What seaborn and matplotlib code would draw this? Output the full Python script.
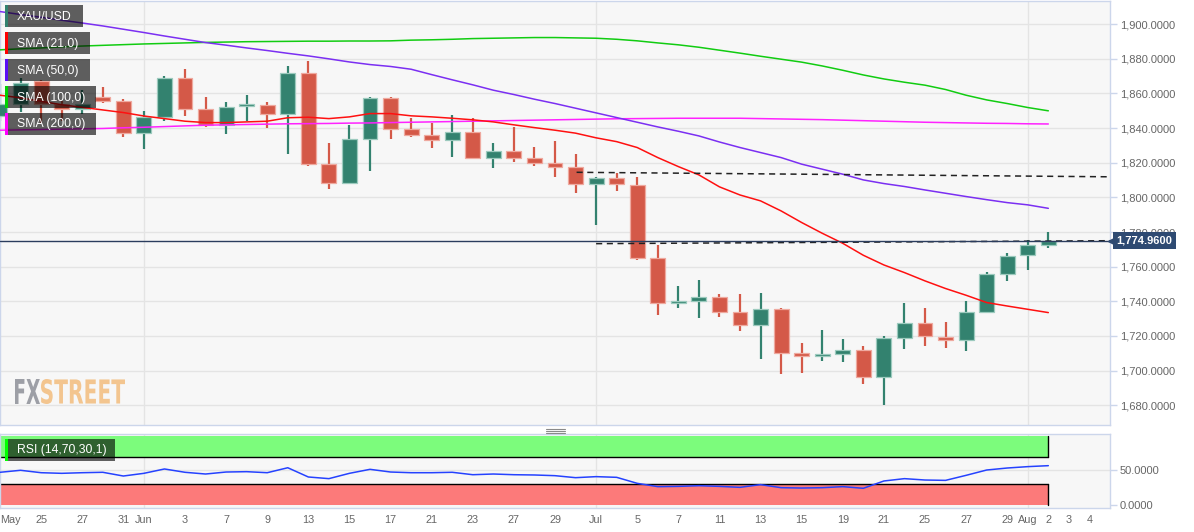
import matplotlib
matplotlib.use('Agg')
import numpy as np
import pandas as pd
import matplotlib.pyplot as plt
import matplotlib.transforms as mtransforms
from matplotlib.patches import Rectangle, PathPatch
from matplotlib.lines import Line2D
from matplotlib.textpath import TextPath
from matplotlib.font_manager import FontProperties
import seaborn as sns

# daily XAU/USD candles, index 0 = first visible session, 51 = Aug 2
opens = [1847.1, 1853.8, 1867.3, 1853.8, 1850.9, 1858.2, 1855.7, 1837.4, 1846.5, 1868.8,
         1850.9, 1841.9, 1852.5, 1853.2, 1848.0, 1871.7, 1819.2, 1808.6, 1834.0, 1857.3,
         1839.7, 1836.1, 1833.2, 1837.8, 1823.0, 1826.7, 1823.0, 1820.1, 1817.8, 1807.6,
         1811.1, 1807.2, 1764.9, 1738.9, 1740.4, 1742.7, 1734.1, 1726.2, 1735.4, 1710.0,
         1708.5, 1709.4, 1711.7, 1696.5, 1718.7, 1727.7, 1719.6, 1717.5, 1734.1, 1756.0,
         1766.6, 1772.4]
highs = [1865.4, 1869.2, 1868.0, 1855.7, 1861.9, 1863.8, 1856.9, 1850.0, 1870.2, 1874.2,
         1858.0, 1855.1, 1859.2, 1855.1, 1875.9, 1878.8, 1831.3, 1841.9, 1857.7, 1858.0,
         1845.7, 1843.2, 1847.6, 1845.7, 1831.3, 1840.9, 1829.2, 1832.6, 1825.1, 1812.0,
         1814.0, 1812.0, 1772.8, 1748.9, 1752.4, 1744.3, 1744.3, 1744.7, 1736.4, 1715.8,
         1723.5, 1718.1, 1714.2, 1720.0, 1739.3, 1736.4, 1728.1, 1740.2, 1757.0, 1768.1,
         1775.3, 1780.3]
lows = [1844.2, 1849.6, 1842.3, 1844.2, 1848.0, 1854.4, 1835.1, 1828.2, 1844.2, 1847.1,
        1840.9, 1836.9, 1844.2, 1840.3, 1825.3, 1818.4, 1805.1, 1807.6, 1815.3, 1834.0,
        1835.1, 1828.8, 1823.6, 1823.0, 1816.7, 1820.5, 1818.2, 1812.0, 1802.6, 1784.3,
        1803.8, 1764.1, 1732.1, 1736.4, 1730.6, 1731.0, 1722.9, 1706.9, 1697.9, 1698.8,
        1705.6, 1705.2, 1692.5, 1680.2, 1712.7, 1714.2, 1713.3, 1711.4, 1733.5, 1751.8,
        1758.3, 1771.0]
closes = [1853.8, 1866.3, 1853.8, 1850.9, 1853.8, 1855.7, 1837.4, 1846.5, 1868.8, 1850.9,
          1841.9, 1852.3, 1853.2, 1848.0, 1871.7, 1819.2, 1808.6, 1834.0, 1857.3, 1839.7,
          1836.1, 1833.2, 1837.8, 1823.0, 1826.7, 1823.0, 1820.1, 1817.8, 1807.6, 1811.1,
          1807.6, 1764.9, 1738.9, 1740.0, 1742.7, 1734.1, 1726.2, 1735.4, 1710.0, 1708.5,
          1709.1, 1711.7, 1696.5, 1718.7, 1727.7, 1720.0, 1717.5, 1734.1, 1755.6, 1766.2,
          1772.4, 1774.96]

sma21 = [1859.0, 1857.5, 1855.5, 1853.5, 1852.0, 1850.5, 1849.0, 1847.0, 1845.5, 1844.0,
         1843.2, 1843.2, 1843.6, 1844.0, 1846.0, 1846.3, 1845.5, 1846.5, 1848.4, 1848.4,
         1847.1, 1846.5, 1845.7, 1844.8, 1843.6, 1841.9, 1840.3, 1838.8, 1837.1, 1834.4,
         1832.2, 1828.8, 1823.0, 1817.8, 1813.0, 1806.1, 1801.4, 1798.0, 1792.2, 1785.5,
         1779.3, 1773.5, 1766.6, 1761.0, 1756.6, 1751.8, 1747.4, 1743.5, 1739.3, 1737.3,
         1735.4, 1733.5]
sma50 = [1907.3, 1905.6, 1904.0, 1902.3, 1900.7, 1899.0, 1897.1, 1895.2, 1893.2, 1891.3,
         1889.4, 1887.9, 1886.3, 1884.8, 1883.2, 1881.7, 1880.0, 1878.2, 1876.7, 1875.6,
         1874.0, 1870.9, 1867.9, 1865.0, 1861.9, 1859.4, 1856.7, 1854.2, 1851.5, 1848.8,
         1846.1, 1843.4, 1840.7, 1838.2, 1835.5, 1832.0, 1828.8, 1825.9, 1823.0, 1819.2,
         1816.3, 1813.4, 1810.1, 1808.0, 1806.3, 1804.3, 1802.4, 1800.5, 1798.7, 1797.0,
         1795.7, 1793.7]
sma100 = [1885.2, 1885.8, 1886.3, 1886.9, 1887.4, 1887.8, 1888.2, 1888.6, 1888.9, 1889.2,
          1889.5, 1889.7, 1889.9, 1890.0, 1890.1, 1890.2, 1890.2, 1890.3, 1890.3, 1890.4,
          1890.8, 1891.0, 1891.3, 1891.7, 1891.9, 1892.1, 1892.3, 1892.3, 1892.1, 1891.9,
          1891.3, 1890.4, 1889.2, 1888.1, 1886.7, 1885.0, 1883.3, 1881.5, 1879.8, 1878.1,
          1875.9, 1873.4, 1870.7, 1868.4, 1866.5, 1864.8, 1862.3, 1859.0, 1856.3, 1854.2,
          1851.9, 1850.0]
sma200 = [1838.8, 1839.0, 1839.2, 1839.4, 1839.6, 1839.8, 1840.2, 1840.5, 1840.9, 1841.3,
          1841.7, 1841.9, 1842.1, 1842.3, 1842.5, 1842.6, 1842.7, 1842.9, 1843.0, 1843.2,
          1843.4, 1843.6, 1843.8, 1844.0, 1844.2, 1844.4, 1844.6, 1844.8, 1845.0, 1845.2,
          1845.4, 1845.5, 1845.6, 1845.7, 1845.7, 1845.7, 1845.7, 1845.5, 1845.3, 1845.1,
          1844.9, 1844.6, 1844.3, 1844.0, 1843.7, 1843.4, 1843.2, 1843.0, 1842.8, 1842.7,
          1842.5, 1842.4]
rsi = [47.4, 50.3, 46.8, 45.9, 46.8, 47.4, 42.0, 45.9, 52.2, 47.4,
       44.9, 47.8, 48.3, 46.8, 54.0, 40.6, 38.2, 45.9, 51.7, 47.8,
       46.8, 46.8, 47.4, 43.9, 44.9, 43.9, 43.5, 42.5, 39.6, 41.1,
       40.1, 31.4, 26.6, 27.0, 28.0, 27.0, 25.6, 29.5, 25.1, 24.6,
       25.1, 26.6, 24.2, 34.8, 38.2, 36.2, 35.7, 43.0, 50.7, 53.6,
       55.6, 57.0]

last_price = 1774.96
# hand-drawn dashed levels (start/end session index, price)
upper_level_x = [28.05, 54]
upper_level_y = [1814.5, 1811.9]
lower_level_x = [29.0, 54]
lower_level_y = [1773.3, 1775.0]

tick_pos = [0, 2, 4, 6, 7, 9, 11, 13, 15, 17, 19, 21, 23, 25, 27, 29, 31, 33, 35, 37,
            39, 41, 43, 45, 47, 49, 50, 51, 52, 53]
tick_labels = ['May', '25', '27', '31', 'Jun', '3', '7', '9', '13', '15', '17', '21', '23',
               '27', '29', 'Jul', '5', '7', '11', '13', '15', '19', '21', '25', '27', '29',
               'Aug', '2', '3', '4']
month_pos = [7, 29, 50]

df = pd.DataFrame({'idx': np.arange(len(opens)), 'open': opens, 'high': highs,
                   'low': lows, 'close': closes, 'sma21': sma21, 'sma50': sma50,
                   'sma100': sma100, 'sma200': sma200, 'rsi': rsi})

sns.set_theme(style='white')
plt.rcParams['font.family'] = ['Liberation Sans', 'DejaVu Sans']

GREEN = '#33826f'
RED = '#d45948'
BORDER = '#ccd6eb'
GRID = '#e4e4e4'
BG = '#f7f7f7'
W, H = 1194, 532

fig = plt.figure(figsize=(W / 100, H / 100), dpi=100, facecolor='white')
ax = fig.add_axes([0, 1 - 425 / H, 1110 / W, 424 / H])
ax_rsi = fig.add_axes([0, 1 - 508 / H, 1110 / W, 74 / H])

for a in (ax, ax_rsi):
    a.set_facecolor(BG)
    for s in a.spines.values():
        s.set_color(BORDER)
        s.set_linewidth(1)
    a.set_xlim(0, 54)

# --- price panel ---
up = df['close'] >= df['open']
body_col = np.where(up, GREEN, RED)
edge_col = np.where(up, '#9ccabe', '#efa99f')
ax.vlines(df['idx'], df['low'], df['high'], colors=body_col, lw=1.6, zorder=2)
body_h = np.maximum((df['close'] - df['open']).abs(), 1.3)
ax.bar(df['idx'], body_h, bottom=np.minimum(df['open'], df['close']), width=0.72,
       color=body_col, edgecolor=edge_col, linewidth=0.9, zorder=3)

for col, c in [('sma200', '#ff22ff'), ('sma100', '#11cc11'), ('sma50', '#7b2ff2'),
               ('sma21', '#ff1010')]:
    sns.lineplot(data=df, x='idx', y=col, ax=ax, color=c, lw=1.1, zorder=4, legend=False)

ax.plot(upper_level_x, upper_level_y, color='#222222', lw=1.1, dashes=(4, 3), zorder=5)
ax.plot(lower_level_x, lower_level_y, color='#222222', lw=1.1, dashes=(4, 3), zorder=5)
ax.axhline(last_price, color='#2b3d5e', lw=1, zorder=5)

ax.set_ylim(1668.6, 1913.4)
ax.set_yticks(np.arange(1680, 1901, 20))
ax.set_yticklabels([f'{v:,.4f}' for v in np.arange(1680, 1901, 20)])
ax.yaxis.tick_right()
ax.set_xticks(month_pos)
ax.set_xticklabels([])
ax.tick_params(axis='x', length=0)
ax.tick_params(axis='y', length=5, width=1, color=BORDER, pad=2, labelsize=8,
               labelcolor='#666666')
ax.grid(True, color=GRID, lw=1)
ax.set_axisbelow(True)
ax.set_xlabel('')
ax.set_ylabel('')

trans = mtransforms.blended_transform_factory(ax.transAxes, ax.transData)
ax.text(1.0057, last_price, f'{last_price:,.4f}', transform=trans, color='white',
        fontsize=8, fontweight='bold', va='center', ha='left', zorder=10, clip_on=False,
        bbox=dict(boxstyle='square,pad=0.3', fc='#2e4a72', ec='none'))
ax.plot([1.001], [last_price], marker='<', ms=5, color='#2e4a72', transform=trans,
        clip_on=False, zorder=10)

# --- RSI panel ---
ax_rsi.set_ylim(-4.35, 102.9)
ax_rsi.fill_between([0, 51], 70, 100, color='#7cfc7c', lw=0, zorder=1)
ax_rsi.fill_between([0, 51], 0, 30, color='#fc7a7a', lw=0, zorder=1)
ax_rsi.plot([0, 51], [70, 70], color='black', lw=1, zorder=2)
ax_rsi.plot([0, 51], [30, 30], color='black', lw=1, zorder=2)
ax_rsi.plot([51, 51], [70, 100], color='black', lw=1, zorder=2)
ax_rsi.plot([51, 51], [0, 30], color='black', lw=1, zorder=2)
for m in month_pos:
    ax_rsi.axvline(m, color=GRID, lw=1, zorder=0.5)
ax_rsi.axhline(50, color=GRID, lw=1, zorder=0.5)
sns.lineplot(data=df, x='idx', y='rsi', ax=ax_rsi, color='#2542ff', lw=1.1, zorder=3,
             legend=False)
ax_rsi.yaxis.tick_right()
ax_rsi.set_yticks([0, 50])
ax_rsi.set_yticklabels(['0.0000', '50.0000'])
ax_rsi.set_xticks(tick_pos)
ax_rsi.set_xticklabels(tick_labels)
ax_rsi.get_xticklabels()[0].set_horizontalalignment('left')
ax_rsi.tick_params(axis='x', length=3, width=1, color='#aaaaaa', pad=2, labelsize=7.8,
                   labelcolor='#666666')
ax_rsi.tick_params(axis='y', length=5, width=1, color=BORDER, pad=2, labelsize=8,
                   labelcolor='#666666')
ax_rsi.grid(False)
ax_rsi.set_xlabel('')
ax_rsi.set_ylabel('')


# --- legend chips ---
def chip(y_top, width, label, color):
    fig.add_artist(Rectangle((5 / W, 1 - (y_top + 22) / H), width / W, 22 / H,
                             transform=fig.transFigure, fc='black', alpha=0.62, ec='none',
                             zorder=20))
    fig.add_artist(Rectangle((5 / W, 1 - (y_top + 22) / H), 3 / W, 22 / H,
                             transform=fig.transFigure, fc=color, ec='none', zorder=21))
    fig.text(17 / W, 1 - (y_top + 11.5) / H, label, color='white', fontsize=8.8,
             va='center', ha='left', zorder=22)


chip(5, 78, 'XAU/USD', GREEN)
chip(32, 85, 'SMA (21,0)', '#ff0000')
chip(59, 85, 'SMA (50,0)', '#5b0ff5')
chip(86, 91, 'SMA (100,0)', '#00d000')
chip(113, 91, 'SMA (200,0)', '#ff00ff')
chip(439, 110, 'RSI (14,70,30,1)', '#00ff00')


# watermark, squeezed into its box (pixel coords, origin top-left)
def squeezed_text(txt, x0, x1, y_top, y_bot, color):
    tp = TextPath((0, 0), txt, size=30, prop=FontProperties(family='DejaVu Sans',
                                                            weight='bold'))
    ext = tp.get_extents()
    sx = (x1 - x0) / ext.width
    sy = (y_bot - y_top) / ext.height
    tr = mtransforms.Affine2D().translate(-ext.x0, -ext.y0).scale(sx, sy) \
        .translate(x0, H - y_bot)
    fig.add_artist(PathPatch(tr.transform_path(tp), fc=color, ec='none',
                             transform=mtransforms.IdentityTransform()))


squeezed_text('FX', 15, 40, 379, 404, '#9d9fa6')
squeezed_text('STREET', 41, 125, 379, 404, '#f3c58f')

# drag handle between panels
for yy in (428.5, 430.5, 432.5):
    fig.add_artist(Line2D([546 / W, 565 / W], [1 - yy / H, 1 - yy / H], color='#8a8a8a',
                          lw=0.8, transform=fig.transFigure))

fig.savefig('out.png', dpi=100, facecolor='white')
